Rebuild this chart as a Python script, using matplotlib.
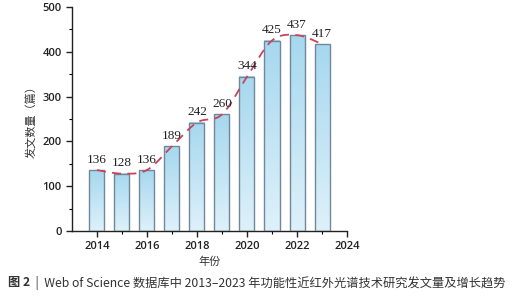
import numpy as np
import matplotlib
matplotlib.use("Agg")
import matplotlib.pyplot as plt
from matplotlib.colors import LinearSegmentedColormap

years = [2014, 2015, 2016, 2017, 2018, 2019, 2020, 2021, 2022, 2023]
counts = [136, 128, 136, 189, 242, 260, 344, 425, 437, 417]
xticks = [2014, 2016, 2018, 2020, 2022, 2024]
yticks = [0, 100, 200, 300, 400, 500]
ylabel = "发文数量（篇）"
xlabel = "年份"
caption_num = "图 2"
caption = "  |  Web of Science 数据库中 2013–2023 年功能性近红外光谱技术研究发文量及增长趋势"

cjk = ["Noto Sans CJK SC", "DejaVu Sans"]
plt.rcParams['font.family'] = ["Open Sans", "Noto Sans CJK SC", "DejaVu Sans"]

fig = plt.figure(figsize=(5.25, 3.0), dpi=100)
ax = fig.add_axes([0.137, 0.23, 0.524, 0.747])

cmap = LinearSegmentedColormap.from_list("b", ["#def1fa", "#a6d8ef"])
grad = np.linspace(0, 1, 256).reshape(-1, 1)
w = 0.6
for x, h in zip(years, counts):
    ax.imshow(grad, extent=[x - w / 2, x + w / 2, 0, h], origin="lower",
              cmap=cmap, aspect="auto", zorder=2)
ax.bar(years, counts, width=w, facecolor="none", edgecolor="#72879a",
       linewidth=1.0, zorder=3)

# smooth trend line through bar tops (Catmull-Rom rendering)
xs = np.array(years, float)
ys = np.array(counts, float)
px = np.concatenate([[xs[0]], xs, [xs[-1]]])
py = np.concatenate([[ys[0]], ys, [ys[-1]]])
cx, cy = [], []
t = np.linspace(0, 1, 30)
for i in range(1, len(px) - 2):
    p0, p1, p2, p3 = [np.array([px[j], py[j]]) for j in (i - 1, i, i + 1, i + 2)]
    pts = 0.5 * ((2 * p1)[None, :] + (-p0 + p2)[None, :] * t[:, None]
                 + (2 * p0 - 5 * p1 + 4 * p2 - p3)[None, :] * t[:, None] ** 2
                 + (-p0 + 3 * p1 - 3 * p2 + p3)[None, :] * t[:, None] ** 3)
    cx.extend(pts[:, 0]); cy.extend(pts[:, 1])
ax.plot(cx, cy, color="#c9435a", lw=1.3, dashes=(5, 3.5), zorder=4)

for x, h in zip(years, counts):
    ax.text(x, h + 10, str(h), ha="center", va="bottom", fontsize=9.5,
            family="Liberation Serif", color="#222222", zorder=5)

ax.set_xlim(2013, 2024)
ax.set_ylim(0, 500)
ax.set_xticks(xticks)
ax.set_xticks(years, minor=True)
ax.set_yticks(yticks)
ax.set_yticks(np.arange(50, 500, 100), minor=True)
ax.tick_params(axis="both", which="major", length=4, width=1, labelsize=8,
               colors="#222222", direction="out")
ax.tick_params(axis="both", which="minor", length=2, width=0.8, direction="out")
for lab in ax.get_xticklabels() + ax.get_yticklabels():
    lab.set_fontweight("semibold")
for s in ["top", "right"]:
    ax.spines[s].set_visible(False)
for s in ["left", "bottom"]:
    ax.spines[s].set_linewidth(1.0)
    ax.spines[s].set_color("#222222")

ax.set_ylabel(ylabel, family=cjk, fontsize=8, color="#333333", labelpad=4)
ax.set_xlabel(xlabel, family=cjk, fontsize=8, color="#333333", labelpad=3)

t1 = fig.text(0.015, 0.057, caption_num, family=cjk, fontsize=8.8, fontweight="bold",
              color="#333333", va="center")
fig.canvas.draw()
bb = t1.get_window_extent(fig.canvas.get_renderer())
x2 = bb.x1 / fig.bbox.width
fig.text(x2, 0.057, caption, family=cjk, fontsize=8.8, color="#333333", va="center")

fig.savefig("out.png", dpi=100)
